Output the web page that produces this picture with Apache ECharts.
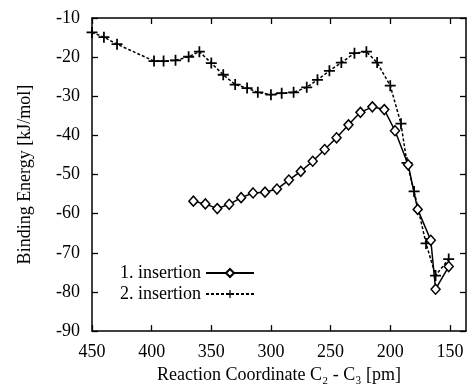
<!DOCTYPE html>
<html>
<head>
<meta charset="utf-8">
<script src="https://cdn.jsdelivr.net/npm/echarts@6/dist/echarts.min.js"></script>
<style>html,body{margin:0;padding:0;background:#fff}#c{width:468px;height:389px}</style>
</head>
<body>
<div id="c"></div>
<script>
const xTicks = [150, 200, 250, 300, 350, 400, 450];
const yTicks = [-90, -80, -70, -60, -50, -40, -30, -20, -10];
const seriesNames = ['1. insertion', '2. insertion'];

const ins1X = [365, 355, 345, 335, 325, 315, 305, 295, 285, 275, 265, 255, 245, 235, 225, 215, 205, 196, 185, 177, 166, 162, 151];
const ins1Y = [-56.8, -57.5, -58.7, -57.6, -55.9, -54.7, -54.5, -53.7, -51.4, -49.2, -46.6, -43.6, -40.6, -37.3, -34.1, -32.7, -33.4, -38.8, -47.5, -58.9, -66.8, -79.3, -73.5];

const ins2X = [450, 440, 429, 398, 390, 380, 369, 360, 350, 340, 330, 320, 311, 300, 291, 281, 270, 261, 251, 241, 230, 220, 211, 200, 191, 186, 180, 170, 162, 151];
const ins2Y = [-13.7, -14.9, -16.7, -21, -21, -20.8, -19.9, -18.6, -21.5, -24.5, -27, -27.9, -29, -29.6, -29.2, -29, -27.7, -25.8, -23.5, -21.4, -19, -18.6, -21.4, -27.3, -37, -47, -54.3, -67.6, -75.8, -71.6];

const FONT = '"Liberation Serif", "DejaVu Serif", serif';
const plusPath = 'path://M4.2,0H5.8V10H4.2Z M0,4.2H10V5.8H0Z';

const chart = echarts.init(document.getElementById('c'), null, {renderer: 'canvas'});
const axisLine = {show: true, lineStyle: {color: '#000', width: 1.5}};
const tick = {show: true, inside: true, length: 6, lineStyle: {color: '#000', width: 1.3}};

chart.setOption({
  backgroundColor: '#fff',
  animation: false,
  textStyle: {fontFamily: FONT, color: '#000'},
  grid: {left: 92, right: 2, top: 18, bottom: 57},
  legend: {
    orient: 'vertical',
    left: 115,
    top: 259,
    align: 'right',
    itemWidth: 48,
    itemHeight: 10,
    itemGap: 3,
    textStyle: {fontFamily: FONT, fontSize: 18, color: '#000'},
    data: seriesNames
  },
  xAxis: [{
    type: 'value', inverse: true, min: 136.5, max: 450,
    name: 'Reaction Coordinate C\u2082 - C\u2083 [pm]',
    nameLocation: 'middle', nameGap: 29,
    nameTextStyle: {fontFamily: FONT, fontSize: 18, color: '#000'},
    axisLine: axisLine,
    axisTick: Object.assign({customValues: xTicks}, tick),
    axisLabel: {customValues: xTicks, fontFamily: FONT, fontSize: 18, color: '#000', margin: 12},
    splitLine: {show: false}
  }, {
    type: 'value', inverse: true, min: 136.5, max: 450, position: 'top',
    axisLine: axisLine,
    axisTick: Object.assign({customValues: xTicks}, tick),
    axisLabel: {show: false},
    splitLine: {show: false}
  }],
  yAxis: [{
    type: 'value', min: -90, max: -10, interval: 10,
    name: 'Binding Energy [kJ/mol]',
    nameLocation: 'middle', nameGap: 58, nameRotate: 90,
    nameTextStyle: {fontFamily: FONT, fontSize: 18, color: '#000'},
    axisLine: axisLine, axisTick: tick,
    axisLabel: {fontFamily: FONT, fontSize: 18, color: '#000', margin: 12},
    splitLine: {show: false}
  }, {
    type: 'value', min: -90, max: -10, interval: 10, position: 'right',
    axisLine: axisLine, axisTick: tick,
    axisLabel: {show: false},
    splitLine: {show: false}
  }],
  series: [{
    name: seriesNames[0], type: 'line',
    data: ins1X.map((x, i) => [x, ins1Y[i]]),
    symbol: 'diamond', symbolSize: [9, 10],
    lineStyle: {color: '#000', width: 1.5},
    itemStyle: {color: '#fff', borderColor: '#000', borderWidth: 1.5},
    z: 3
  }, {
    name: seriesNames[1], type: 'line',
    data: ins2X.map((x, i) => [x, ins2Y[i]]),
    symbol: plusPath, symbolSize: 11,
    lineStyle: {color: '#000', width: 1.5, type: [3, 2]},
    itemStyle: {color: '#000', borderWidth: 0},
    z: 2
  }]
});
</script>
</body>
</html>
